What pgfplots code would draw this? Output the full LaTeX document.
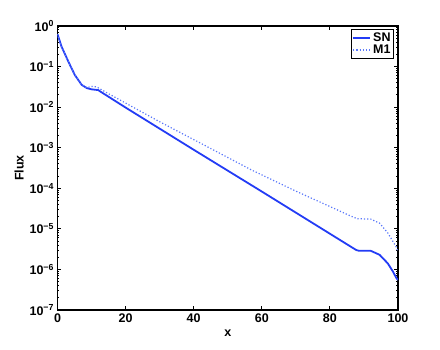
\documentclass[border=0pt]{standalone}
\usepackage{pgfplots}
\pgfplotsset{compat=1.18}
\usepackage{fontspec}
\setmainfont{Liberation Sans}
\definecolor{snblue}{RGB}{35,60,245}
\definecolor{mblue}{RGB}{90,120,250}
\begin{document}
\begin{tikzpicture}
\useasboundingbox (-57.5pt,-39pt) rectangle (382.5pt,310pt);
\begin{axis}[
  at={(0,0)}, anchor=south west,
  scale only axis,
  width=340.5pt, height=284pt,
  ymode=log,
  xmin=0, xmax=100, ymin=1e-7, ymax=1,
  xtick={0,20,40,60,80,100},
  ytick={1e-7,1e-6,1e-5,1e-4,1e-3,1e-2,1e-1,1},
  yticklabels={10\textsuperscript{−7},10\textsuperscript{−6},10\textsuperscript{−5},10\textsuperscript{−4},10\textsuperscript{−3},10\textsuperscript{−2},10\textsuperscript{−1},10\textsuperscript{0}},
  /pgf/number format/assume math mode=true,
  tick label style={font=\fontsize{12.5}{14}\selectfont\bfseries},
  label style={font=\fontsize{12.5}{14}\selectfont\bfseries},
  xlabel={x}, ylabel={Flux},
  xlabel style={yshift=-1pt},
  ylabel style={yshift=-1pt},
  tick align=inside,
  major tick length=4pt, minor tick length=2pt,
  axis line style={line width=1.4pt},
  every tick/.style={black, line width=0.9pt},
  legend style={at={(0.988,0.988)}, anchor=north east, draw=black, line width=0.7pt,
    font=\fontsize{12.5}{14}\selectfont\bfseries, inner sep=1pt, row sep=-2pt},
  legend cell align=left,
]
\addplot[snblue, line width=1.8pt] coordinates {
(0,0.631) (1.2,0.309) (3.2,0.132) (5.1,0.0617) (7.1,0.0355) (8.6,0.0295)
(10,0.0275) (12,0.0263) (12.5,0.0245) (14,0.0204)
(20,0.00977) (40,8.91e-4) (60,8.32e-5) (80,7.59e-6) (85,4.17e-6) (87.7,3.02e-6)
(88.5,2.88e-6) (92,2.88e-6) (94.6,2.29e-6) (97,1.41e-6) (98.5,8.91e-7) (99.5,6.17e-7) (100,5.50e-7)
};
\addlegendentry{SN}
\addplot[mblue, line width=1.2pt, dotted] coordinates {
(0,0.631) (1.2,0.309) (3.2,0.132) (5.1,0.0617) (7.1,0.0355) (8.6,0.0302)
(10,0.0324) (11.5,0.0316) (12.5,0.0282) (15,0.0214)
(20,0.0126) (30,4.37e-3) (45,9.55e-4) (57,2.82e-4) (70,8.51e-5) (80,3.55e-5)
(86,2.09e-5) (88,1.78e-5) (92,1.74e-5) (94.6,1.38e-5) (97,7.94e-6) (98.5,4.90e-6)
(99.5,3.55e-6) (100,2.75e-6)
};
\addlegendentry{M1}
\end{axis}
\end{tikzpicture}
\end{document}
